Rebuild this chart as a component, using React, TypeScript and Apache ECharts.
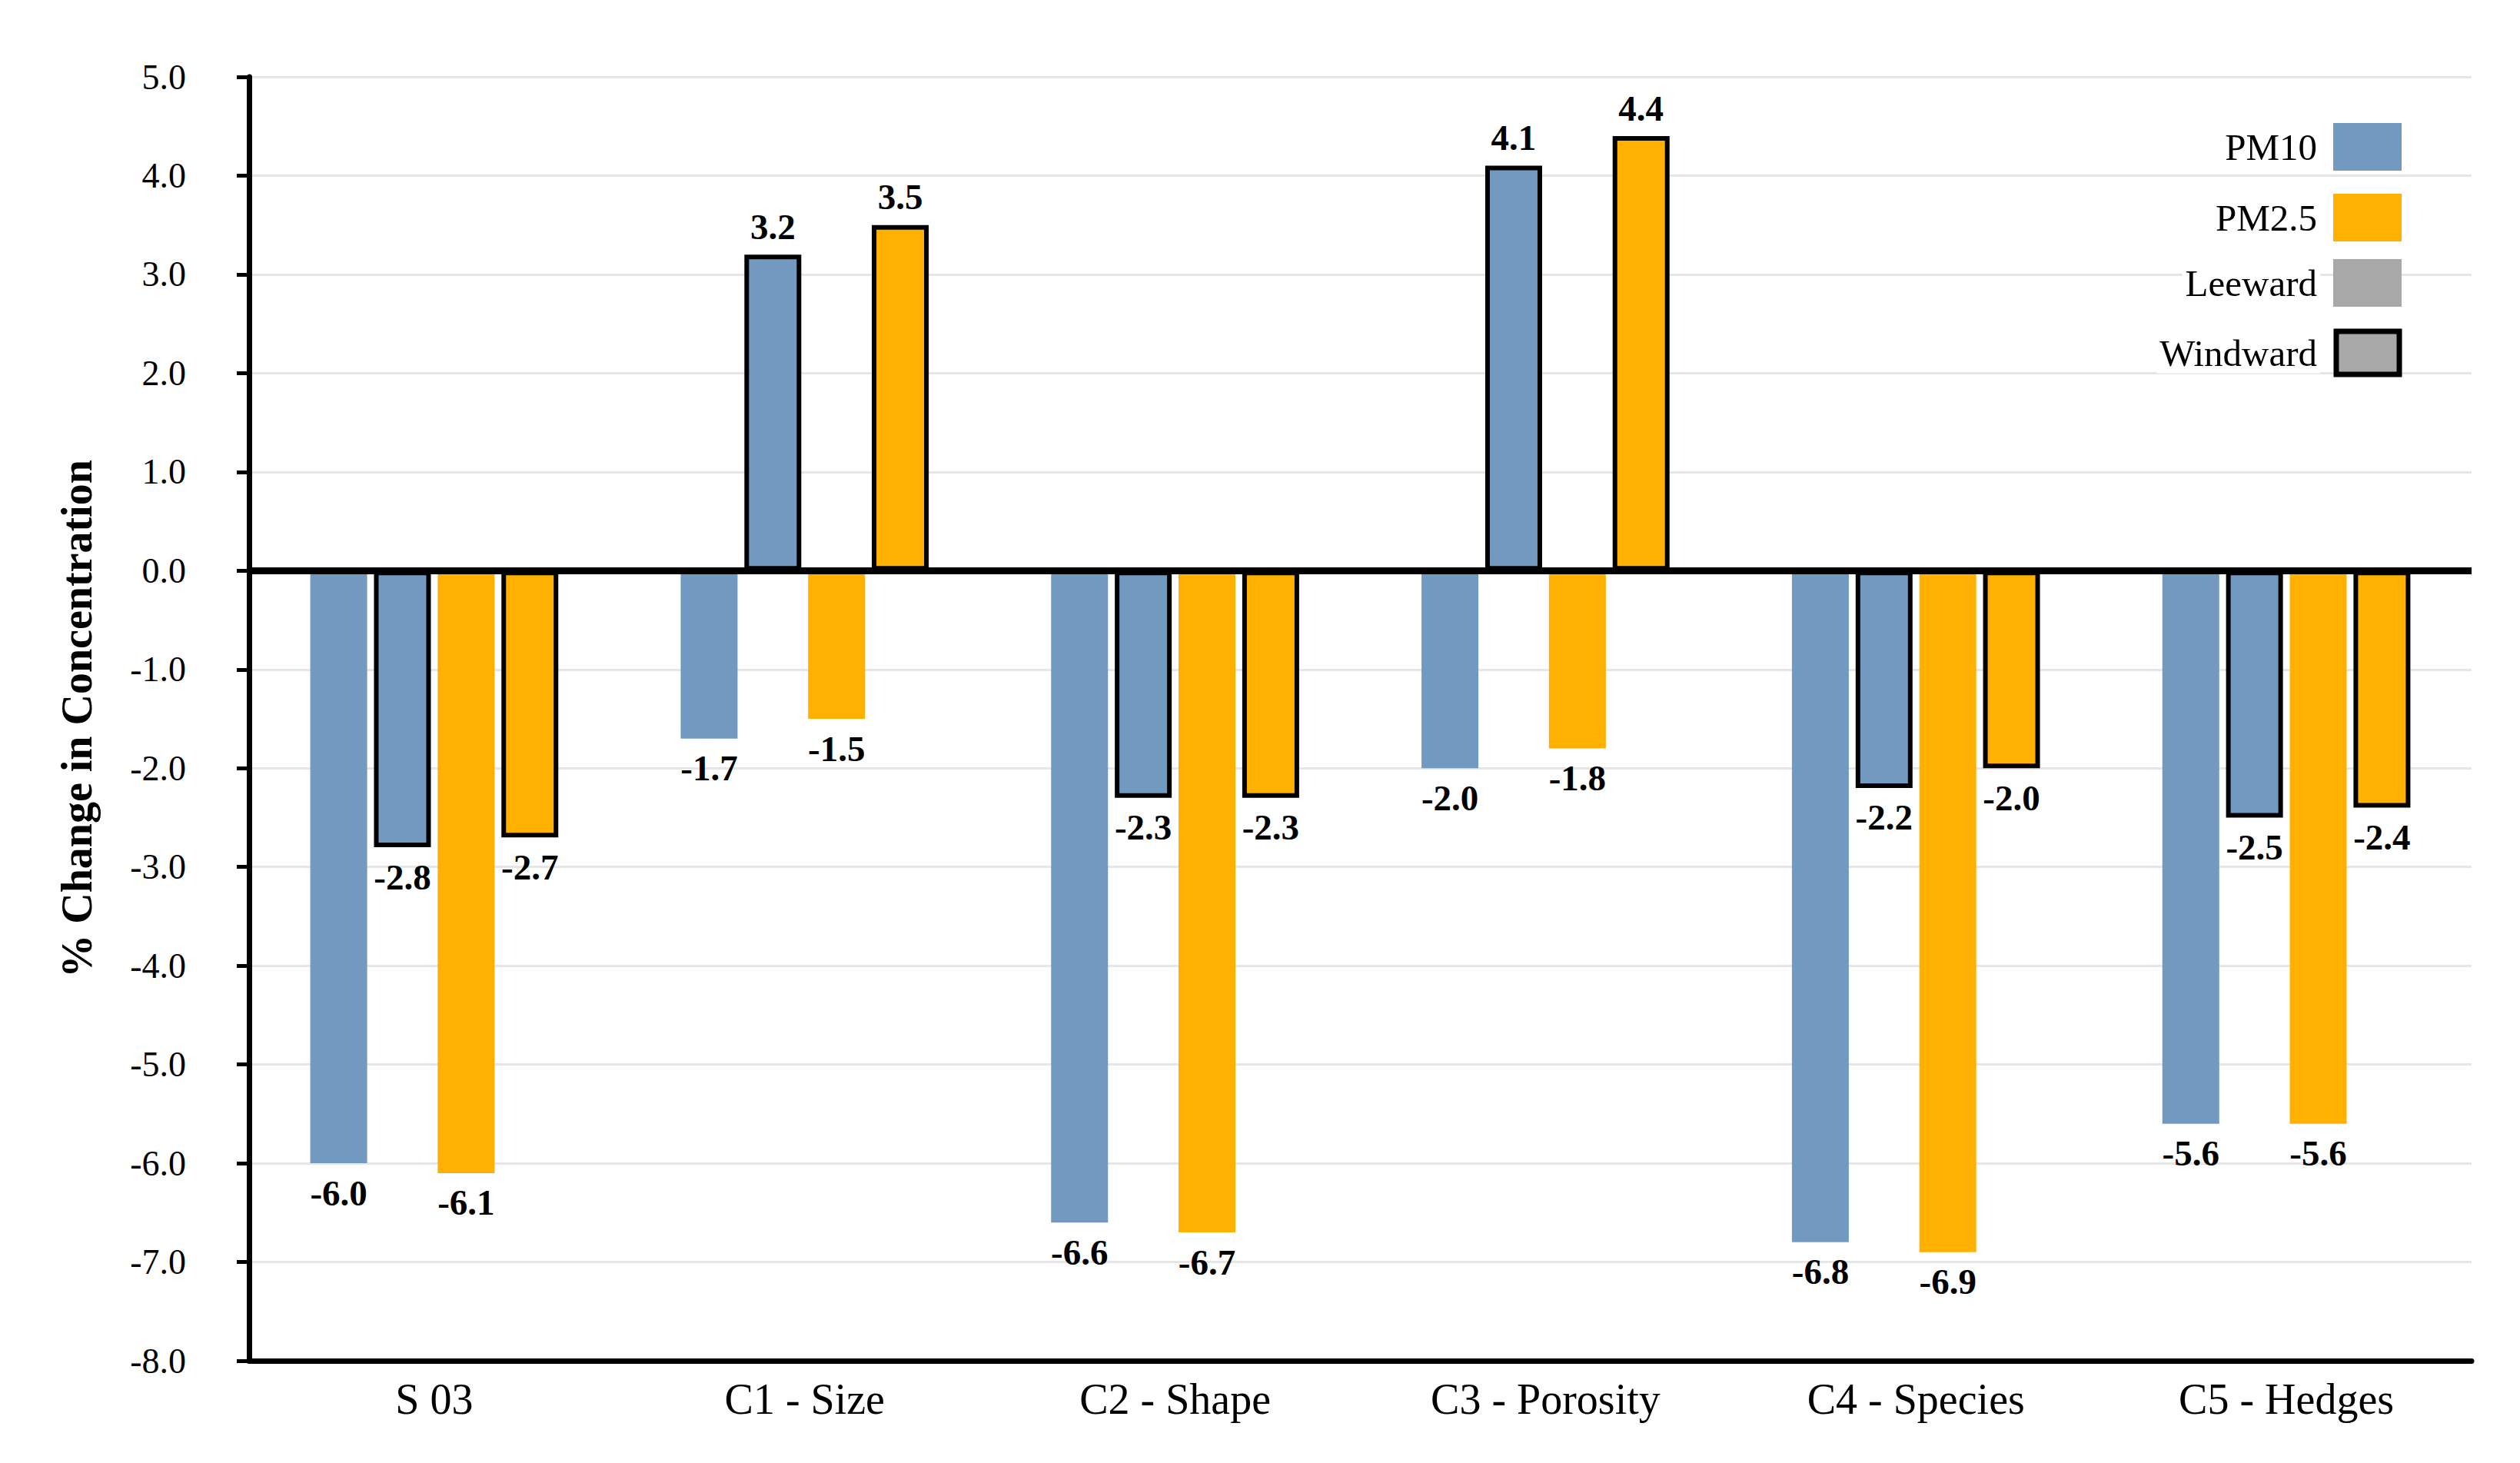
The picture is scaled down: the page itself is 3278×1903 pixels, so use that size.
import React, { useEffect, useRef } from "react";
import * as echarts from "echarts";

const categories = ["S 03", "C1 - Size", "C2 - Shape", "C3 - Porosity", "C4 - Species", "C5 - Hedges"];
const pm10Leeward = [-6.0, -1.7, -6.6, -2.0, -6.8, -5.6];
const pm10Windward = [-2.8, 3.2, -2.3, 4.1, -2.2, -2.5];
const pm25Leeward = [-6.1, -1.5, -6.7, -1.8, -6.9, -5.6];
const pm25Windward = [-2.7, 3.5, -2.3, 4.4, -2.0, -2.4];
const yMin = -8;
const yMax = 5;
const yStep = 1;
const legendLabels = ["PM10", "PM2.5", "Leeward", "Windward"];

const FONT = "'Liberation Serif', 'Times New Roman', serif";
const BLUE = "#7299BF";
const ORANGE = "#FFB000";
const GRAY = "#A8A8A8";

function makeSeries(name: string, values: number[], color: string, windward: boolean, extra: any = {}) {
  return {
    type: "bar",
    name,
    barWidth: 74,
    barGap: "12%",
    data: values.map((v) => ({
      value: v,
      label: { position: v >= 0 ? "top" : "bottom", distance: v >= 0 ? 13 : 15 },
    })),
    itemStyle: {
      color,
      borderColor: windward ? "#000" : color,
      borderWidth: windward ? 6 : 0,
    },
    label: {
      show: true,
      formatter: (p: any) => Number(p.value).toFixed(1),
      fontSize: 47,
      fontWeight: "bold",
      color: "#000",
      fontFamily: FONT,
    },
    ...extra,
  };
}

export default function App() {
  const ref = useRef<HTMLDivElement>(null);
  useEffect(() => {
    if (!ref.current) return;
    const chart = echarts.init(ref.current, null, { renderer: "svg" });
    const legendY = [191, 283, 368, 459];
    const legendFill = [BLUE, ORANGE, GRAY, GRAY];
    const graphic: any[] = [];
    legendLabels.forEach((t, i) => {
      const cy = legendY[i];
      graphic.push({
        type: "text",
        z: 100,
        x: 3018,
        y: cy,
        style: {
          text: t,
          fontSize: 49,
          fontFamily: FONT,
          fill: "#000",
          align: "right",
          verticalAlign: "middle",
          textAlign: "right",
          textVerticalAlign: "middle",
          backgroundColor: "#fff",
          padding: [2, 4, 2, 4],
        },
      });
      const isWind = i === 3;
      graphic.push({
        type: "rect",
        z: 100,
        shape: isWind
          ? { x: 3039, y: cy - 28, width: 82, height: 56 }
          : { x: 3035, y: cy - 31, width: 89, height: 62 },
        style: {
          fill: legendFill[i],
          stroke: isWind ? "#000" : null,
          lineWidth: isWind ? 7 : 0,
        },
      });
    });

    chart.setOption({
      animation: false,
      backgroundColor: "#fff",
      textStyle: { fontFamily: FONT },
      grid: { left: 324, right: 63, top: 100, bottom: 133, containLabel: false },
      xAxis: {
        type: "category",
        data: categories,
        axisLine: { onZero: false, lineStyle: { color: "#000", width: 7 } },
        axisTick: { show: false },
        axisLabel: { fontSize: 56, color: "#000", fontFamily: FONT, margin: 22 },
      },
      yAxis: {
        type: "value",
        min: yMin,
        max: yMax,
        interval: yStep,
        name: "% Change in Concentration",
        nameLocation: "middle",
        nameRotate: 90,
        nameGap: 196,
        nameTextStyle: { fontSize: 56, fontWeight: "bold", color: "#000", fontFamily: FONT },
        axisLine: { show: true, lineStyle: { color: "#000", width: 7 } },
        axisTick: { show: true, length: 16, lineStyle: { color: "#000", width: 5 } },
        axisLabel: {
          fontSize: 46,
          color: "#000",
          fontFamily: FONT,
          margin: 82,
          formatter: (v: number) => v.toFixed(1),
        },
        splitLine: { show: true, lineStyle: { color: "#E6E6E6", width: 3 } },
      },
      series: [
        makeSeries("PM10 Leeward", pm10Leeward, BLUE, false),
        makeSeries("PM10 Windward", pm10Windward, BLUE, true),
        makeSeries("PM2.5 Leeward", pm25Leeward, ORANGE, false),
        makeSeries("PM2.5 Windward", pm25Windward, ORANGE, true, {
          markLine: {
            silent: true,
            symbol: ["none", "none"],
            label: { show: false },
            lineStyle: { color: "#000", width: 9, type: "solid" },
            data: [{ yAxis: 0 }],
          },
        }),
      ],
      graphic,
    });
    return () => chart.dispose();
  }, []);
  return (
    <div
      ref={ref}
      style={{ position: "fixed", left: 0, top: 0, width: 3278, height: 1903, background: "#fff" }}
    />
  );
}
